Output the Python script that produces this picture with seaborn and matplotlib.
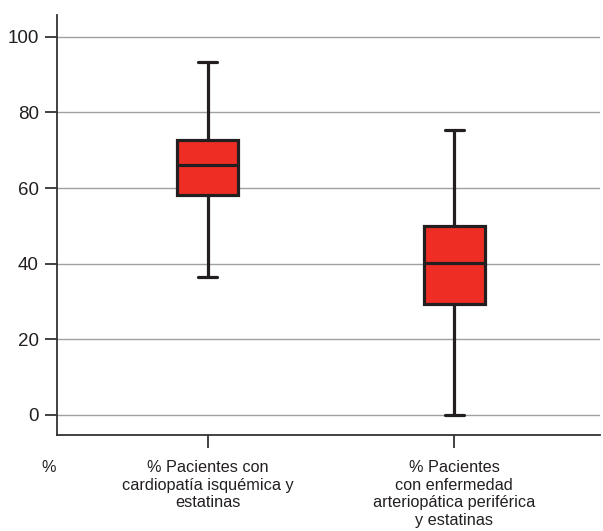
import matplotlib
matplotlib.use("Agg")
import matplotlib.pyplot as plt
import seaborn as sns
import pandas as pd
import numpy as np

# five-number summaries (min, q1, median, q3, max)
grupos = ["% Pacientes con\ncardiopatía isquémica y\nestatinas",
          "% Pacientes\ncon enfermedad\narteriopática periférica\ny estatinas"]
cardiopatia = [36.5, 58.2, 66.0, 72.7, 93.3]
arteriopatia = [0.0, 29.4, 40.2, 50.0, 75.3]
yticks = [0, 20, 40, 60, 80, 100]

df = pd.DataFrame({
    "grupo": [grupos[0]] * len(cardiopatia) + [grupos[1]] * len(arteriopatia),
    "valor": cardiopatia + arteriopatia,
})

sns.set_style("white")
plt.rcParams["font.family"] = ["Liberation Sans", "DejaVu Sans"]

oscuro = "#231f20"
fig = plt.figure(figsize=(6.03, 5.31), dpi=100)
ax = fig.add_axes([0.0945, 0.181, 0.9005, 0.791])

lp = dict(color=oscuro, linewidth=2.3)
sns.boxplot(data=df, x="grupo", y="valor", ax=ax, whis=(0, 100), width=0.25,
            color="#ee2e24", saturation=1, linecolor=oscuro, linewidth=2.3,
            boxprops=dict(facecolor="#ee2e24", edgecolor=oscuro, linewidth=2.3),
            medianprops=lp, whiskerprops=lp, capprops=lp, zorder=3)

# narrower caps, as in the original
for ln in ax.lines:
    x = np.asarray(ln.get_xdata(), dtype=float)
    y = np.asarray(ln.get_ydata(), dtype=float)
    if len(x) == 2 and y[0] == y[1] and (x.max() - x.min()) < 0.2:
        c = x.mean()
        ln.set_xdata([c - 0.038, c + 0.038])

ax.set_xlim(-0.61, 1.59)
ax.set_ylim(-5.3, 105.8)
ax.set_yticks(yticks)
ax.yaxis.grid(True, color="#a0a0a0", linewidth=1)
ax.set_axisbelow(True)
ax.set_xlabel("")
ax.set_ylabel("")
for s in ["top", "right"]:
    ax.spines[s].set_visible(False)
for s in ["left", "bottom"]:
    ax.spines[s].set_color("#333333")
    ax.spines[s].set_linewidth(1.3)
ax.tick_params(axis="both", direction="out", length=9, width=1.3, color="#333333",
               labelcolor=oscuro, bottom=True, left=True)
ax.tick_params(axis="x", pad=9, labelsize=11.7)
ax.tick_params(axis="y", pad=4, labelsize=13.5)
plt.setp(ax.get_xticklabels(), ha="center", multialignment="center", linespacing=1.22)

fig.text(49 / 603, 1 - 467 / 531, "%", fontsize=11.7, color=oscuro, ha="center", va="center")

fig.savefig("out.png", dpi=100)
